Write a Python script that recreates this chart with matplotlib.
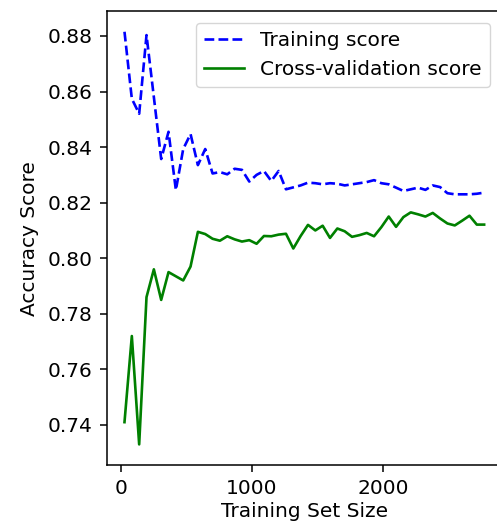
import matplotlib
matplotlib.use("Agg")
import matplotlib.pyplot as plt

# training set sizes (evenly spaced steps)
train_sizes = [28, 84, 140, 196, 252, 308, 364, 420, 476, 532,
               588, 644, 700, 756, 812, 868, 924, 980, 1036, 1092,
               1148, 1204, 1260, 1316, 1372, 1428, 1484, 1540, 1596, 1652,
               1708, 1764, 1820, 1876, 1932, 1988, 2044, 2100, 2156, 2212,
               2268, 2324, 2380, 2436, 2492, 2548, 2604, 2660, 2716, 2772]

train_score = [0.8815, 0.8574, 0.8520, 0.8803, 0.8580, 0.8357, 0.8455, 0.8245, 0.8393, 0.8447,
               0.8335, 0.8393, 0.8305, 0.8310, 0.8302, 0.8322, 0.8318, 0.8276, 0.8300, 0.8314,
               0.8278, 0.8314, 0.8248, 0.8255, 0.8262, 0.8272, 0.8270, 0.8266, 0.8270, 0.8268,
               0.8262, 0.8266, 0.8270, 0.8274, 0.8281, 0.8270, 0.8266, 0.8254, 0.8242, 0.8248,
               0.8254, 0.8246, 0.8262, 0.8256, 0.8234, 0.8230, 0.8230, 0.8230, 0.8232, 0.8236]

cv_score = [0.7410, 0.7720, 0.7330, 0.7860, 0.7960, 0.7850, 0.7950, 0.7935, 0.7920, 0.7970,
            0.8095, 0.8087, 0.8070, 0.8063, 0.8079, 0.8068, 0.8060, 0.8065, 0.8052, 0.8080,
            0.8079, 0.8085, 0.8088, 0.8035, 0.8080, 0.8120, 0.8100, 0.8117, 0.8073, 0.8107,
            0.8097, 0.8077, 0.8083, 0.8091, 0.8079, 0.8112, 0.8150, 0.8113, 0.8148, 0.8165,
            0.8158, 0.8150, 0.8163, 0.8143, 0.8125, 0.8118, 0.8135, 0.8153, 0.8121, 0.8121]

fig = plt.figure(figsize=(4.97, 5.30), dpi=100)
ax = fig.add_axes([0.2143, 0.1226, 0.796, 0.8564])

ax.plot(train_sizes, train_score, '--', color='blue', linewidth=1.9, label='Training score')
ax.plot(train_sizes, cv_score, color='green', linewidth=1.9, label='Cross-validation score')

ax.set_xticks([0, 1000, 2000])
ax.set_yticks([0.74, 0.76, 0.78, 0.80, 0.82, 0.84, 0.86, 0.88])
ax.tick_params(labelsize=14.5, length=5, width=1.1, pad=5)
for s in ax.spines.values():
    s.set_linewidth(1.1)
ax.set_xlabel("Training Set Size", fontsize=14.5, labelpad=3)
ax.set_ylabel("Accuracy Score", fontsize=14.5, labelpad=6)
ax.legend(loc='upper right', fontsize=14.5, borderaxespad=0.6)

fig.savefig("out.png", dpi=100)
